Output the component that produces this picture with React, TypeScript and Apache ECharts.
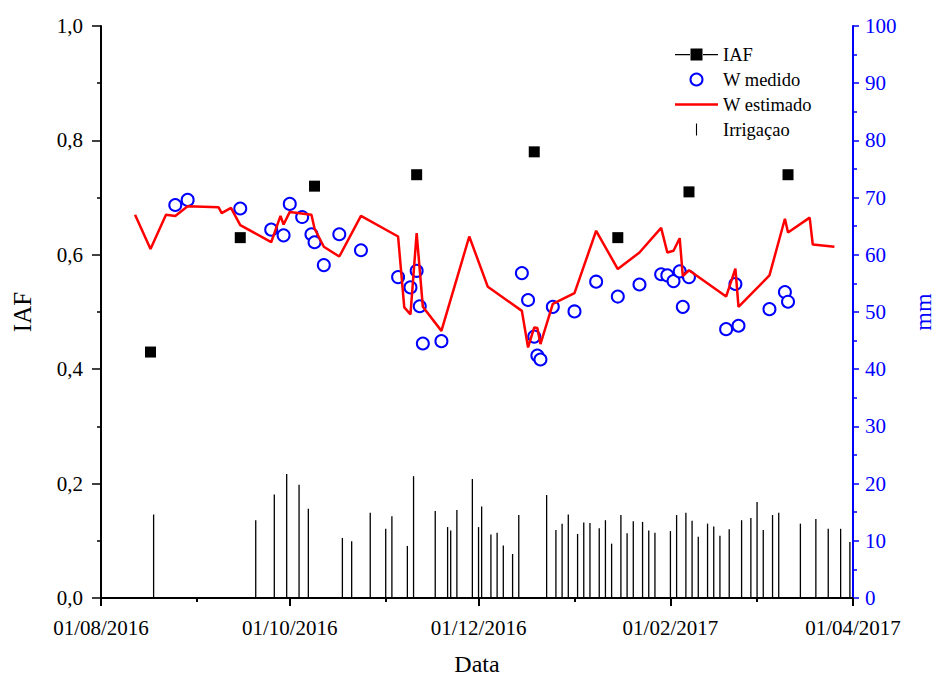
import React, { useEffect, useRef } from "react";
import * as echarts from "echarts";

const FONT = '"Liberation Serif", "Times New Roman", Times, serif';

// IAF (left axis)
const iafDates = ["2016-08-17", "2016-09-15", "2016-10-09", "2016-11-11", "2016-12-19", "2017-01-15", "2017-02-07", "2017-03-11"];
const iafValues = [0.43, 0.63, 0.72, 0.74, 0.78, 0.63, 0.71, 0.74];

// W medido (mm, right axis)
const wMedDates = [
  "2016-08-25", "2016-08-29", "2016-09-15", "2016-09-25", "2016-09-29", "2016-10-01", "2016-10-05", "2016-10-08",
  "2016-10-09", "2016-10-12", "2016-10-17", "2016-10-24", "2016-11-05", "2016-11-09", "2016-11-11", "2016-11-12",
  "2016-11-13", "2016-11-19", "2016-12-15", "2016-12-17", "2016-12-19", "2016-12-20", "2016-12-21", "2016-12-25",
  "2017-01-01", "2017-01-08", "2017-01-15", "2017-01-22", "2017-01-29", "2017-01-31", "2017-02-02", "2017-02-04",
  "2017-02-05", "2017-02-07", "2017-02-19", "2017-02-22", "2017-02-23", "2017-03-05", "2017-03-10", "2017-03-11",
];
const wMedValues = [
  68.7, 69.6, 68.1, 64.4, 63.4, 68.9, 66.6, 63.6,
  62.2, 58.2, 63.6, 60.8, 56.1, 54.3, 57.2, 51.0,
  44.5, 44.9, 56.8, 52.1, 45.7, 42.4, 41.7, 50.9,
  50.1, 55.3, 52.7, 54.8, 56.6, 56.4, 55.4, 57.1,
  50.9, 56.1, 47.0, 54.9, 47.6, 50.5, 53.5, 51.8,
];

// W estimado (mm, right axis)
const wEstDates = [
  "2016-08-12", "2016-08-17", "2016-08-22", "2016-08-25", "2016-08-29", "2016-09-08", "2016-09-09", "2016-09-12",
  "2016-09-15", "2016-09-25", "2016-09-28", "2016-09-29", "2016-10-01", "2016-10-08", "2016-10-09", "2016-10-12",
  "2016-10-17", "2016-10-24", "2016-11-05", "2016-11-07", "2016-11-09", "2016-11-11", "2016-11-13", "2016-11-19",
  "2016-11-28", "2016-12-04", "2016-12-15", "2016-12-17", "2016-12-19", "2016-12-20", "2016-12-21", "2016-12-25",
  "2017-01-01", "2017-01-08", "2017-01-15", "2017-01-22", "2017-01-29", "2017-01-31", "2017-02-02", "2017-02-04",
  "2017-02-05", "2017-02-07", "2017-02-19", "2017-02-22", "2017-02-23", "2017-03-05", "2017-03-10", "2017-03-11",
  "2017-03-18", "2017-03-19", "2017-03-26",
];
const wEstValues = [
  67.0, 61.0, 67.0, 66.8, 68.5, 68.3, 67.3, 68.2,
  65.2, 62.2, 66.8, 65.3, 67.5, 67.0, 64.6, 61.4,
  59.7, 66.8, 63.2, 50.8, 49.6, 63.8, 50.9, 46.7,
  63.2, 54.4, 50.2, 43.8, 47.3, 47.2, 44.4, 51.4,
  53.3, 64.2, 57.5, 60.4, 64.7, 60.4, 60.7, 62.9,
  56.3, 57.3, 52.7, 57.6, 50.9, 56.4, 66.3, 63.9,
  66.5, 61.8, 61.4,
];

// Irrigação (mm, right axis)
const irrDates = [
  "2016-08-18", "2016-09-20", "2016-09-26", "2016-09-30", "2016-10-04", "2016-10-07", "2016-10-18", "2016-10-21",
  "2016-10-27", "2016-11-01", "2016-11-03", "2016-11-08", "2016-11-10", "2016-11-17", "2016-11-21", "2016-11-22",
  "2016-11-24", "2016-11-29", "2016-12-01", "2016-12-02", "2016-12-05", "2016-12-07", "2016-12-09", "2016-12-12",
  "2016-12-14", "2016-12-23", "2016-12-26", "2016-12-28", "2016-12-30", "2017-01-02", "2017-01-04", "2017-01-06",
  "2017-01-09", "2017-01-11", "2017-01-13", "2017-01-16", "2017-01-18", "2017-01-20", "2017-01-23", "2017-01-25",
  "2017-01-27", "2017-02-01", "2017-02-03", "2017-02-06", "2017-02-08", "2017-02-10", "2017-02-13", "2017-02-15",
  "2017-02-17", "2017-02-20", "2017-02-24", "2017-02-27", "2017-03-01", "2017-03-03", "2017-03-06", "2017-03-08",
  "2017-03-15", "2017-03-20", "2017-03-24", "2017-03-28", "2017-03-31",
];
const irrValues = [
  14.6, 13.6, 18.1, 21.7, 19.8, 15.6, 10.5, 9.9,
  14.9, 12.1, 14.3, 9.1, 21.3, 15.2, 12.4, 11.8,
  15.4, 20.8, 12.4, 16.0, 11.1, 11.4, 9.2, 7.7,
  14.5, 18.0, 11.9, 13.0, 14.6, 11.2, 13.2, 13.1,
  12.2, 13.6, 9.5, 14.5, 11.3, 13.4, 13.3, 11.8,
  11.4, 11.7, 14.5, 14.9, 13.5, 10.7, 13.0, 12.5,
  10.9, 12.0, 13.6, 14.0, 16.8, 11.9, 14.5, 14.9,
  13.0, 13.8, 12.1, 12.1, 9.8,
];

const xMajorTicks = ["2016-08-01", "2016-10-01", "2016-12-01", "2017-02-01", "2017-04-01"];
const xMinorTicks = ["2016-09-01", "2016-11-01", "2017-01-01", "2017-03-01"];

const ts = (d: string) => new Date(d + "T00:00:00Z").getTime();
const pad = (n: number) => (n < 10 ? "0" + n : "" + n);
const fmtDate = (v: number) => {
  const d = new Date(v);
  return pad(d.getUTCDate()) + "/" + pad(d.getUTCMonth() + 1) + "/" + d.getUTCFullYear();
};

export default function App() {
  const ref = useRef<HTMLDivElement>(null);
  useEffect(() => {
    if (!ref.current) return;
    const chart = echarts.init(ref.current, undefined, { renderer: "svg" });
    const xMin = ts(xMajorTicks[0]);
    const xMax = ts(xMajorTicks[xMajorTicks.length - 1]);
    const blue = "#0000ff";
    chart.setOption({
      animation: false,
      backgroundColor: "#ffffff",
      textStyle: { fontFamily: FONT },
      grid: { left: 101, right: 86, top: 26, bottom: 79, outerBoundsMode: "none", containLabel: false },
      legend: {
        orient: "vertical",
        left: 675,
        top: 45,
        padding: 0,
        itemWidth: 43,
        itemHeight: 12,
        itemGap: 6,
        selectedMode: false,
        textStyle: { fontFamily: FONT, fontSize: 18.5, color: "#000" },
        data: [
          { name: "IAF", icon: "path://M0,5.5h15v1.2h-15z M15.5,0h12v12h-12z M28,5.5h15v1.2h-15z" },
          { name: "W medido", icon: "emptyCircle" },
          { name: "W estimado", icon: "path://M0,0h43v2.5h-43z" },
          { name: "Irrigaçao", icon: "path://M0,0h1.1v12h-1.1z" },
        ],
      },
      xAxis: [
        {
          type: "value",
          min: xMin,
          max: xMax,
          position: "bottom",
          splitLine: { show: false },
          axisLine: { show: true, lineStyle: { color: "#000", width: 2 } },
          axisTick: { show: true, customValues: xMajorTicks.map(ts), length: 8, lineStyle: { color: "#000", width: 2 } },
          axisLabel: {
            customValues: xMajorTicks.map(ts),
            formatter: (v: number) => fmtDate(v),
            fontFamily: FONT,
            fontSize: 21,
            color: "#000",
            margin: 19,
          },
          name: "Data",
          nameLocation: "middle",
          nameGap: 54,
          nameTextStyle: { fontFamily: FONT, fontSize: 24, color: "#000" },
        },
        {
          type: "value",
          min: xMin,
          max: xMax,
          position: "bottom",
          splitLine: { show: false },
          axisLine: { show: false },
          axisTick: { show: true, customValues: xMinorTicks.map(ts), length: 4, lineStyle: { color: "#000", width: 2 } },
          axisLabel: { show: false },
        },
      ],
      yAxis: [
        {
          type: "value",
          min: 0,
          max: 1,
          interval: 0.2,
          position: "left",
          splitLine: { show: false },
          axisLine: { show: true, lineStyle: { color: "#000", width: 2 } },
          axisTick: { show: true, length: 9, lineStyle: { color: "#000", width: 1.5 } },
          minorTick: { show: true, splitNumber: 2, length: 4, lineStyle: { color: "#000", width: 1.5 } },
          axisLabel: {
            formatter: (v: number) => v.toFixed(1).replace(".", ","),
            fontFamily: FONT,
            fontSize: 21,
            color: "#000",
            margin: 18,
          },
          name: "IAF",
          nameLocation: "middle",
          nameGap: 66,
          nameRotate: 90,
          nameTextStyle: { fontFamily: FONT, fontSize: 25, color: "#000" },
        },
        {
          type: "value",
          min: 0,
          max: 100,
          interval: 10,
          position: "right",
          splitLine: { show: false },
          axisLine: { show: true, lineStyle: { color: blue, width: 2 } },
          axisTick: { show: true, length: 6, lineStyle: { color: blue, width: 1.5 } },
          minorTick: { show: true, splitNumber: 2, length: 4, lineStyle: { color: blue, width: 1.5 } },
          axisLabel: { fontFamily: FONT, fontSize: 21, color: blue, margin: 12 },
          name: "mm",
          nameLocation: "middle",
          nameGap: 58,
          nameRotate: 90,
          nameTextStyle: { fontFamily: FONT, fontSize: 24, color: blue },
        },
      ],
      series: [
        {
          name: "IAF",
          type: "scatter",
          yAxisIndex: 0,
          symbol: "rect",
          symbolSize: 11,
          itemStyle: { color: "#000", opacity: 1 },
          data: iafDates.map((d, i) => [ts(d), iafValues[i]]),
        },
        {
          name: "W medido",
          type: "scatter",
          yAxisIndex: 1,
          symbol: "emptyCircle",
          symbolSize: 12,
          itemStyle: { color: blue, borderColor: blue, borderWidth: 1.2, opacity: 1 },
          data: wMedDates.map((d, i) => [ts(d), wMedValues[i]]),
        },
        {
          name: "W estimado",
          type: "line",
          yAxisIndex: 1,
          symbol: "none",
          lineStyle: { color: "#ff0000", width: 2.5 },
          itemStyle: { color: "#ff0000" },
          data: wEstDates.map((d, i) => [ts(d), wEstValues[i]]),
        },
        {
          name: "Irrigaçao",
          type: "bar",
          yAxisIndex: 1,
          barWidth: 1.3,
          itemStyle: { color: "#000" },
          data: irrDates.map((d, i) => [ts(d), irrValues[i]]),
        },
      ],
    });
    return () => chart.dispose();
  }, []);
  return <div ref={ref} style={{ position: "fixed", left: 0, top: 0, width: 939, height: 677, background: "#fff" }} />;
}
